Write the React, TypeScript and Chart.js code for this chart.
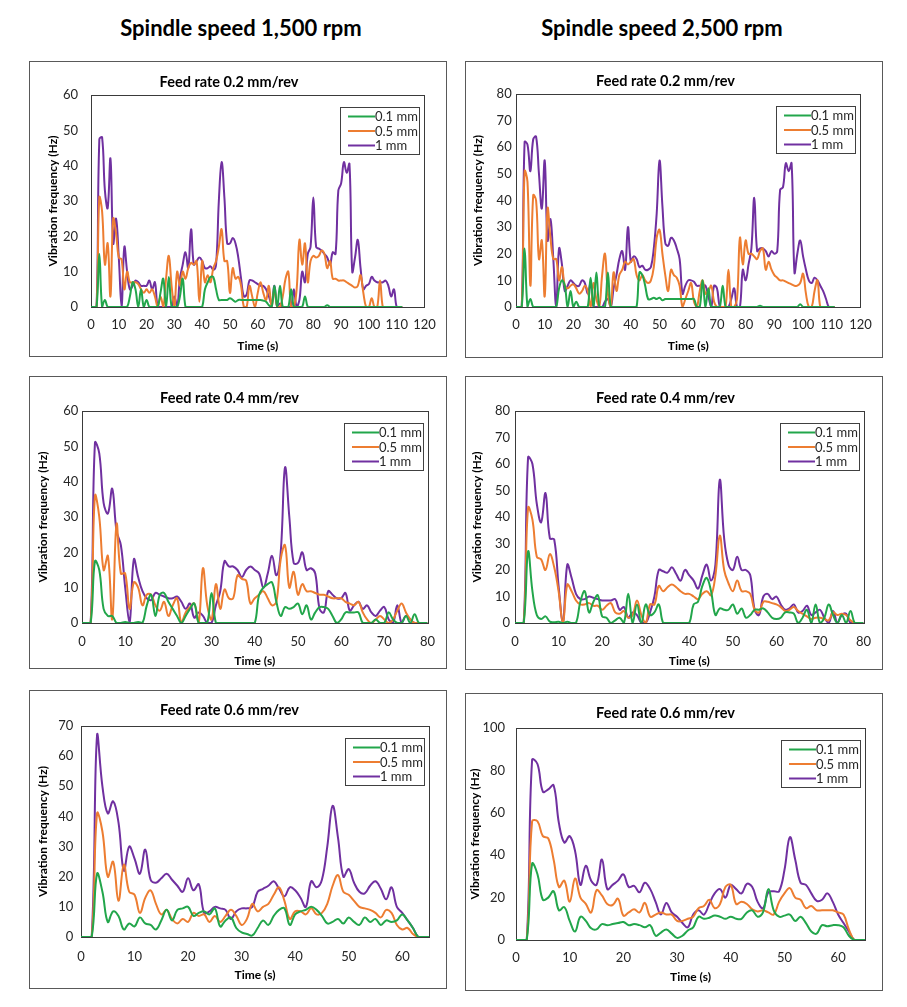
import React, { useEffect, useRef } from "react";
import { Chart, registerables } from "chart.js";

Chart.register(...registerables);

const FONT = "Lato, 'Open Sans', 'DejaVu Sans', sans-serif";

const seriesNames = ["0.1 mm", "0.5 mm", "1 mm"];
const seriesColors = ["#22A64B", "#ED7D31", "#7030A0"];

const columnTitles = ["Spindle speed 1,500 rpm", "Spindle speed 2,500 rpm"];
const feedTitles = ["Feed rate 0.2 mm/rev", "Feed rate 0.4 mm/rev", "Feed rate 0.6 mm/rev"];

// Axis ticks
const xTicks120 = [0, 10, 20, 30, 40, 50, 60, 70, 80, 90, 100, 110, 120];
const xTicks80 = [0, 10, 20, 30, 40, 50, 60, 70, 80];
const xTicks65 = [0, 10, 20, 30, 40, 50, 60];
const yTicks60 = [0, 10, 20, 30, 40, 50, 60];
const yTicks70 = [0, 10, 20, 30, 40, 50, 60, 70];
const yTicks80 = [0, 10, 20, 30, 40, 50, 60, 70, 80];
const yTicks100 = [0, 20, 40, 60, 80, 100];

// 1,500 rpm, feed 0.2 mm/rev (one sample per second)
const s1500f02_01 = [
  0, 0, 0, 15, 0, 2, 0, 0, 0, 0,
  0, 0, 0, 0, 3, 7, 5, 0, 5, 0,
  2, 0, 0, 0, 0, 4, 8, 0, 8.5, 0,
  0, 0, 3, 8, 0, 0, 0, 0, 0, 0,
  0, 5, 7, 8.5, 8.5, 5, 2, 2, 2, 2,
  2.5, 2, 1.5, 2, 2, 2, 2, 2, 2, 2,
  2, 2, 1.8, 1.5, 0.5, 0, 6, 0, 6, 0,
  0, 0, 5, 0, 0, 0, 0, 3, 0, 0,
  0, 0, 0, 0, 0, 0.5, 0, 0, 0, 0,
  0, 0, 0, 0, 0, 0, 0, 0, 0, 0,
  0, 0, 0, 0, 0, 0, 0, 0, 0, 0,
  0, 0, 0,
];
const s1500f02_05 = [
  0, 0, 0, 31, 27, 12, 18, 3, 25, 21,
  14, 13.5, 5, 10, 7, 7, 7, 6.5, 5, 4,
  5, 4, 5, 3, 0, 3, 0, 8, 14.5, 6,
  0, 10, 6, 10, 8, 11, 12.5, 12, 13, 1.5,
  13, 7, 9, 7, 11, 13, 17, 22, 13, 13,
  4, 11, 8, 8.5, 6, 0, 0, 6, 3, 0,
  4, 7, 4, 2, 6, 0, 5, 0, 0, 3,
  8, 10, 0, 0, 5, 19, 12, 18, 7, 13,
  14.5, 14, 14.5, 16, 15, 11, 13, 8, 8, 7.5,
  7.5, 7.5, 7, 6.5, 6, 5.5, 6, 9, 4, 0,
  0, 2.5, 0, 0, 7.5, 0, 0, 0, 0, 0,
  0, 0, 0,
];
const s1500f02_1 = [
  0, 0, 0, 47.5, 48, 33, 28, 42, 18, 25,
  14, 0, 17, 10, 5, 6, 7.5, 7, 6, 6,
  6, 7.5, 5, 7, 0, 0, 0, 0, 0, 0,
  3, 0, 8, 12, 15.5, 11, 22, 12, 13, 14,
  13, 11, 11, 11.5, 10.5, 12, 30, 41, 31, 18,
  18, 19.5, 18, 14, 8, 3, 3.5, 7.5, 7.5, 7,
  6.5, 6, 6, 5, 3, 1, 6, 0, 1, 0,
  0, 0, 0, 5, 0, 2, 10, 7, 15, 17,
  31, 17, 16.5, 16, 15, 14, 12, 15.5, 15, 33,
  35, 41, 38, 40.5, 10, 14, 19, 11, 5, 6,
  6.5, 8.5, 7.5, 7, 7, 7, 7.5, 6, 3, 5,
  0, 0, 0,
];

// 2,500 rpm, feed 0.2 mm/rev
const s2500f02_01 = [
  0, 0, 0, 22, 0, 3, 0, 0, 0, 0,
  0, 0, 0, 0, 0, 7, 10, 8, 0, 6,
  0, 2, 0, 0, 0, 0, 11, 0, 13, 0,
  0, 0, 13, 0, 0, 0, 0, 0, 0, 0,
  0, 0, 0, 13, 12, 8, 3, 3, 3.5, 3,
  3.5, 2.5, 3, 3, 3, 3, 3, 3, 3, 3,
  3, 3, 3, 0, 0, 10, 0, 7, 0, 0,
  0, 0, 8, 0, 0, 0, 0, 0, 0, 0,
  0, 0, 0, 0, 0, 0.5, 0, 0, 0, 0,
  0, 0, 0, 0, 0, 0, 0, 0, 0, 1,
  0, 0, 0, 0, 0, 0, 0, 0, 0, 0,
  0, 0,
];
const s2500f02_05 = [
  0, 0, 0, 51, 47, 8, 42, 40, 18, 25,
  4, 37, 26, 18, 18, 10, 15, 8, 7, 8,
  8.5, 7, 5, 6, 8, 6, 0, 9, 3, 0,
  12, 20, 5, 0, 13, 6, 12, 14, 17, 16,
  17, 18, 12, 10, 12, 10, 9, 10, 15, 26,
  29, 20, 12, 6, 14, 12, 11, 8, 0, 3,
  6, 9, 2, 0, 6, 10, 5, 6, 8, 2,
  0, 0, 0, 0, 14, 0, 0, 3, 26, 16,
  25, 20, 20, 19, 18, 21, 22, 14, 17, 14,
  12, 11, 10, 10, 9.5, 9, 8.5, 8, 8, 9,
  12.5, 5, 0, 0, 6, 10, 0, 0, 0, 0,
  0, 0,
];
const s2500f02_1 = [
  0, 0, 0, 62, 61, 51, 63, 64, 50, 37,
  55, 25, 33, 18, 0, 22, 16, 6, 8, 10,
  9, 8, 8, 10, 9, 5, 9, 0, 0, 0,
  0, 2, 3, 0, 7, 12, 18, 21, 14, 30,
  17, 19, 18, 15, 15.5, 14, 14, 15, 22, 35,
  55, 38, 24, 23, 26, 25, 22, 18, 5, 8,
  10, 10, 9.5, 8, 8, 8, 8, 4, 0, 8,
  7, 0, 0, 0, 0, 3, 7, 0, 0, 14,
  10, 16, 22, 41, 21, 22, 22, 21, 19, 21,
  20, 21, 44, 45, 54, 51, 54, 13, 20, 25,
  19, 14, 10, 9, 11, 10, 8, 6, 3, 0,
  0, 0,
];

// 1,500 rpm, feed 0.4 mm/rev
const s1500f04_01 = [
  0, 0, 0, 17.5, 15, 4, 2, 2, 0, 0,
  0.3, 0, 0, 0.3, 0, 5, 8, 2, 8, 8.5,
  6, 4, 2, 0, 2, 4, 5.5, 0, 0, 0,
  8.5, 0, 0, 0, 0, 0, 0, 0, 0, 0,
  0, 8, 10, 11, 11.5, 6, 2, 4.5, 4, 4.5,
  5.5, 2.5, 5, 1, 3, 4.5, 4.5, 4, 2, 0,
  1, 3, 3, 3, 3, 0, 0, 0, 1, 0,
  0, 3, 1, 0, 0, 2, 0, 2.5, 0, 0,
  0,
];
const s1500f04_05 = [
  0, 0, 0, 36, 30, 15, 19, 1, 28, 14,
  14, 4, 11.5, 10, 5, 8, 8, 5, 3.5, 6,
  2, 5, 7, 0, 3, 4.5, 5.5, 0, 15.5, 5,
  1, 11, 4, 9.5, 7, 7, 13.5, 12.5, 12, 5.5,
  7, 8, 9, 7, 5, 6, 18, 22, 10, 14.5,
  8, 11, 9, 9, 8.5, 8, 8, 7.5, 7, 7,
  7, 6, 5.5, 5, 6, 3, 1, 0, 1, 2,
  1, 0, 1, 3.5, 5.5, 3, 1, 0, 0, 0,
  0,
];
const s1500f04_1 = [
  0, 0, 0, 51, 48, 34, 31, 38, 26, 22,
  10, 0, 18, 13, 9, 7, 6.5, 8.5, 8, 7.5,
  7, 7, 7.5, 6, 4, 5.5, 1.5, 3, 2, 0,
  0, 5, 9, 17.5, 16, 16, 15, 13, 15, 16,
  15, 14, 10, 14, 19, 13.5, 20, 44, 30, 17,
  17, 20, 15, 15.5, 14, 4, 3, 9, 8, 7,
  7, 8.5, 3.5, 5, 6, 4, 5, 3, 2, 3.5,
  4.5, 1, 0, 5, 0, 2, 1, 0, 0, 0,
  0,
];

// 2,500 rpm, feed 0.4 mm/rev
const s2500f04_01 = [
  0, 0, 0, 27, 12, 3, 1.5, 2.5, 0.5, 0.3,
  0.5, 0, 0.5, 0, 0, 8, 12, 4, 8, 10.5,
  2.5, 2, 0, 1, 2, 0, 11, 0, 7, 0,
  7, 3, 4, 7, 0, 0, 0, 0, 0, 0,
  0, 7, 8, 14, 17, 12, 3, 5.5, 5, 5,
  7, 3.5, 5.5, 2, 3, 5, 5, 5.5, 4, 2,
  1.5, 2, 4, 4, 3.5, 0, 2, 5, 0, 7,
  0, 2, 7, 3, 0, 3, 0, 4.5, 0, 0,
  0,
];
const s2500f04_05 = [
  0, 0, 0, 43.5, 39, 25, 24, 20, 26, 21,
  12, 0, 14.5, 12, 8.5, 7, 7, 7.5, 6.5, 6.5,
  5, 6.5, 7.5, 4, 3.5, 4.5, 2, 3, 8.5, 3,
  0, 7, 7, 14, 12, 13.5, 14.5, 13.5, 12, 11,
  11, 10, 9, 11, 12, 10.5, 18, 33, 20, 15,
  12, 16, 12, 12, 11, 5, 4, 8, 8, 7.5,
  7, 6, 4.5, 5, 6, 4.5, 3.5, 2.5, 1.5, 2,
  2, 1.5, 1, 4, 3, 3.5, 3, 1, 0, 0,
  0,
];
const s2500f04_1 = [
  0, 0, 0, 62.5, 60, 45, 38, 49, 32, 31.5,
  14, 0, 22, 17, 11, 9, 9, 10, 9.5, 9,
  8.5, 8.5, 8.5, 9, 5, 6, 2, 4, 3, 0,
  0, 4, 10, 20, 19.5, 19, 21, 18.5, 16, 20,
  18, 16, 13, 18, 22, 16, 22, 54, 32, 22,
  20, 25, 20, 20, 18, 5, 3, 10, 11, 9,
  10, 7, 5, 5.5, 7, 4, 4.5, 6.5, 3, 4,
  5, 2, 0, 4.5, 0, 3, 3.5, 0, 0, 0,
  0,
];

// 1,500 rpm, feed 0.6 mm/rev
const s1500f06_01 = [
  0, 0, 0, 21, 15, 5, 8.5, 7, 2.5, 4.5,
  3.5, 6.5, 4.5, 4, 2.5, 5.5, 9, 5.5, 9, 9.5,
  10, 7, 8, 8.5, 7.5, 9.5, 3.5, 5.5, 6.5, 3,
  1.5, 1, 0.5, 3, 5.5, 4, 7, 9, 9.5, 4,
  7.5, 8.5, 9, 10, 9, 7, 4.5, 5, 6, 4.5,
  6.5, 5, 4, 6.5, 5, 6, 4, 5.5, 5, 5.5,
  7.5, 5.5, 3, 0, 0, 0,
];
const s1500f06_05 = [
  0, 0, 0, 41, 35, 20, 25, 12, 24, 15,
  14, 8, 13, 15.5, 11, 7.5, 9, 6, 4.5, 6,
  5, 8, 7, 7.5, 5, 7, 5, 7, 9, 7,
  4, 6, 11, 8.5, 10, 11, 14, 16.5, 12, 6,
  8.5, 8.5, 7.5, 9.5, 7.5, 8, 11, 17, 20.5, 15,
  14, 12, 10, 9.5, 9, 8, 6.5, 9, 8, 4,
  2.5, 3, 1, 0, 0, 0,
];
const s1500f06_1 = [
  0, 0, 0, 67, 50, 41, 45, 38, 22, 30,
  26, 21, 29, 19, 18, 19.5, 21, 19, 17, 15,
  19.5, 15.5, 17.5, 8, 8.5, 10, 9.5, 9, 6, 8.5,
  9.5, 9.5, 10, 15, 16, 17, 18.5, 16, 13.5, 16.5,
  15.5, 13, 10, 18.5, 16.5, 19, 30, 43.5, 33, 20,
  22.5, 18, 15, 14.5, 17, 18.5, 16, 12.5, 16.5, 10,
  8, 5.5, 3, 0, 0, 0,
];

// 2,500 rpm, feed 0.6 mm/rev
const s2500f06_01 = [
  0, 0, 0, 36, 31, 19, 20, 23, 14, 15.5,
  9, 4, 11, 9, 5.5, 5, 7.5, 7, 7.5, 8,
  8.5, 7, 7.5, 7, 6, 7, 2, 3.5, 5, 3,
  1, 2, 4.5, 6, 11, 10, 10.5, 11.5, 11, 10,
  11, 10, 10, 13, 14, 11, 13, 24, 14, 11,
  11.5, 12, 9, 11, 8, 4, 3, 7, 6.5, 7,
  7, 6, 2, 0, 0, 0,
];
const s2500f06_05 = [
  0, 0, 0, 56, 56, 49, 48, 38, 25, 28,
  18, 29, 20, 17, 13, 23.5, 21, 17, 16.5, 19.5,
  11.5, 13, 14.5, 13, 17.5, 11, 12, 13, 12, 12,
  9, 9, 10, 11, 15, 16, 19, 15, 17, 25,
  26, 17, 18, 17, 14.5, 13.5, 14, 13, 12, 18,
  22, 24.5, 20, 19, 15, 16, 14, 14, 14, 14,
  13, 12, 5, 0, 0, 0,
];
const s2500f06_1 = [
  0, 0, 0, 85, 83, 70, 71, 73, 55, 46,
  49, 42, 26, 35, 28, 26, 38, 24, 26, 28,
  31, 25, 25.5, 22.5, 27, 24, 18, 12, 17.5, 13,
  11, 8, 6, 12, 14, 12, 17, 22, 24, 20,
  26, 24, 22, 26.5, 25, 18, 15, 22.5, 23, 23,
  33, 48.5, 38, 27, 26, 22, 18.5, 19, 22, 18,
  12, 8, 4, 0, 0, 0,
];

type Layout = {
  box: { x: number; y: number; w: number; h: number };
  area: { l: number; t: number; r: number; b: number };
  titleY: number;
  yTitleX: number;
  yLabelRight: number;
  xLabelY: number;
  xTitleY: number;
};

type Panel = {
  title: string;
  xMax: number;
  xTicks: number[];
  yMax: number;
  yTicks: number[];
  series: number[][];
  layout: Layout;
};

const panels: Panel[] = [
  {
    title: feedTitles[0], xMax: 120, xTicks: xTicks120, yMax: 60, yTicks: yTicks60,
    series: [s1500f02_01, s1500f02_05, s1500f02_1],
    layout: { box: { x: 29, y: 61, w: 418, h: 296 }, area: { l: 61, t: 33, r: 398, b: 245 }, titleY: 20, yTitleX: 23, yLabelRight: 48, xLabelY: 263, xTitleY: 284 },
  },
  {
    title: feedTitles[0], xMax: 120, xTicks: xTicks120, yMax: 80, yTicks: yTicks80,
    series: [s2500f02_01, s2500f02_05, s2500f02_1],
    layout: { box: { x: 465, y: 61, w: 418, h: 297 }, area: { l: 50, t: 32, r: 399, b: 245 }, titleY: 19.7, yTitleX: 12.3, yLabelRight: 45.7, xLabelY: 263, xTitleY: 284 },
  },
  {
    title: feedTitles[1], xMax: 80, xTicks: xTicks80, yMax: 60, yTicks: yTicks60,
    series: [s1500f04_01, s1500f04_05, s1500f04_1],
    layout: { box: { x: 29, y: 376, w: 418, h: 293 }, area: { l: 52, t: 34, r: 399, b: 246 }, titleY: 21, yTitleX: 13.3, yLabelRight: 48.3, xLabelY: 264.7, xTitleY: 284 },
  },
  {
    title: feedTitles[1], xMax: 80, xTicks: xTicks80, yMax: 80, yTicks: yTicks80,
    series: [s2500f04_01, s2500f04_05, s2500f04_1],
    layout: { box: { x: 465, y: 376, w: 418, h: 294 }, area: { l: 49, t: 34, r: 399, b: 246 }, titleY: 21, yTitleX: 10.7, yLabelRight: 44, xLabelY: 264.7, xTitleY: 284 },
  },
  {
    title: feedTitles[2], xMax: 65, xTicks: xTicks65, yMax: 70, yTicks: yTicks70,
    series: [s1500f06_01, s1500f06_05, s1500f06_1],
    layout: { box: { x: 29, y: 690, w: 418, h: 299 }, area: { l: 51, t: 35, r: 399, b: 246 }, titleY: 19, yTitleX: 12.7, yLabelRight: 43.3, xLabelY: 265.7, xTitleY: 284 },
  },
  {
    title: feedTitles[2], xMax: 65, xTicks: xTicks65, yMax: 100, yTicks: yTicks100,
    series: [s2500f06_01, s2500f06_05, s2500f06_1],
    layout: { box: { x: 465, y: 693, w: 418, h: 298 }, area: { l: 50, t: 34, r: 399, b: 246 }, titleY: 19.3, yTitleX: 9.5, yLabelRight: 39, xLabelY: 264.3, xTitleY: 282.7 },
  },
];

const TITLE_SIZE = 14.5;
const AXIS_TITLE_SIZE = 12;
const TICK_SIZE = 13;
const LEGEND_SIZE = 13;

// Black frame around the plot area, drawn under the lines
const plotFrame = {
  id: "plotFrame",
  beforeDatasetsDraw(chart: any) {
    const { ctx, chartArea: a } = chart;
    ctx.save();
    ctx.strokeStyle = "#3a3a3a";
    ctx.lineWidth = 1;
    ctx.strokeRect(Math.round(a.left) + 0.5, Math.round(a.top) + 0.5, Math.round(a.right - a.left), Math.round(a.bottom - a.top));
    ctx.restore();
  },
};

// Boxed legend in the upper-right corner of the plot area
const boxedLegend = {
  id: "boxedLegend",
  afterDraw(chart: any) {
    const { ctx, chartArea: a } = chart;
    const w = 79;
    const h = 47;
    const left = Math.round(a.right - 5 - w);
    const top = Math.round(a.top + 12);
    ctx.save();
    ctx.fillStyle = "#fff";
    ctx.fillRect(left, top, w, h);
    ctx.strokeStyle = "#404040";
    ctx.lineWidth = 1;
    ctx.strokeRect(left + 0.5, top + 0.5, w, h);
    ctx.font = `${LEGEND_SIZE}px ${FONT}`;
    ctx.textBaseline = "middle";
    ctx.textAlign = "left";
    chart.data.datasets.forEach((ds: any, i: number) => {
      const y = top + 9.5 + i * 14.5;
      ctx.strokeStyle = ds.borderColor;
      ctx.lineWidth = 2;
      ctx.beginPath();
      ctx.moveTo(left + 8, y);
      ctx.lineTo(left + 35, y);
      ctx.stroke();
      ctx.fillStyle = "#262626";
      ctx.fillText(ds.label, left + 35, y + 0.5);
    });
    ctx.restore();
  },
};

function PanelChart({ panel }: { panel: Panel }) {
  const ref = useRef<HTMLCanvasElement | null>(null);
  const { box, area } = panel.layout;
  const cw = box.w - 2;
  const ch = box.h - 2;

  useEffect(() => {
    if (!ref.current) return;
    const L = panel.layout;
    const titleLH = TITLE_SIZE * 1.2;
    const axisLH = AXIS_TITLE_SIZE * 1.2;
    const tickLH = TICK_SIZE * 1.2;
    const titleTop = L.titleY - titleLH / 2;
    const titleBottom = area.t - titleTop - titleLH;

    const chart = new Chart(ref.current, {
      type: "line",
      data: {
        datasets: panel.series.map((vals, i) => ({
          label: seriesNames[i],
          data: vals.map((v, t) => ({ x: t, y: v })),
          borderColor: seriesColors[i],
          backgroundColor: seriesColors[i],
          borderWidth: 2,
          pointRadius: 0,
          tension: 0.4,
          fill: false,
        })),
      },
      options: {
        animation: false,
        responsive: false,
        devicePixelRatio: 1,
        layout: { padding: { left: 0, top: 0, right: cw - area.r, bottom: 0 } },
        plugins: {
          legend: { display: false },
          tooltip: { enabled: false },
          title: {
            display: true,
            text: panel.title,
            color: "#000",
            font: { family: FONT, size: TITLE_SIZE, weight: "bold" },
            padding: { top: titleTop, bottom: titleBottom },
          },
        },
        scales: {
          x: {
            type: "linear",
            min: 0,
            max: panel.xMax,
            afterBuildTicks: (axis: any) => {
              axis.ticks = panel.xTicks.map((v) => ({ value: v }));
            },
            afterFit: (s: any) => {
              s.height = ch - area.b;
            },
            grid: { display: false, drawTicks: false },
            border: { display: false },
            ticks: {
              color: "#262626",
              font: { family: FONT, size: TICK_SIZE },
              padding: L.xLabelY - area.b - tickLH / 2,
              maxRotation: 0,
              autoSkip: false,
            },
            title: {
              display: true,
              text: "Time (s)",
              color: "#000",
              font: { family: FONT, size: AXIS_TITLE_SIZE, weight: "bold" },
              padding: { top: 0, bottom: ch - L.xTitleY - axisLH / 2 },
            },
          },
          y: {
            type: "linear",
            min: 0,
            max: panel.yMax,
            afterBuildTicks: (axis: any) => {
              axis.ticks = panel.yTicks.map((v) => ({ value: v }));
            },
            afterFit: (s: any) => {
              s.width = area.l;
            },
            grid: { display: false, drawTicks: false },
            border: { display: false },
            ticks: {
              color: "#262626",
              font: { family: FONT, size: TICK_SIZE },
              padding: area.l - L.yLabelRight,
              autoSkip: false,
            },
            title: {
              display: true,
              text: "Vibration frequency (Hz)",
              color: "#000",
              font: { family: FONT, size: AXIS_TITLE_SIZE, weight: "bold" },
              padding: { top: L.yTitleX - axisLH / 2, bottom: 0 },
            },
          },
        },
      },
      plugins: [plotFrame, boxedLegend],
    } as any);
    return () => chart.destroy();
  }, [panel]);

  return (
    <div
      style={{
        position: "absolute",
        left: box.x,
        top: box.y,
        width: box.w,
        height: box.h,
        boxSizing: "border-box",
        border: "1px solid #595959",
        background: "#fff",
      }}
    >
      <canvas ref={ref} width={cw} height={ch} style={{ display: "block", width: cw, height: ch }} />
    </div>
  );
}

const headerCenters = [241, 662];

export default function App() {
  return (
    <div style={{ position: "absolute", left: 0, top: 0, width: 907, height: 1007, background: "#fff", overflow: "hidden" }}>
      {columnTitles.map((t, i) => (
        <div
          key={t}
          style={{
            position: "absolute",
            left: headerCenters[i],
            top: 15,
            transform: "translateX(-50%)",
            whiteSpace: "nowrap",
            fontFamily: FONT,
            fontWeight: 700,
            fontSize: 22,
            lineHeight: "26px",
            color: "#000",
          }}
        >
          {t}
        </div>
      ))}
      {panels.map((p, i) => (
        <PanelChart key={i} panel={p} />
      ))}
    </div>
  );
}
